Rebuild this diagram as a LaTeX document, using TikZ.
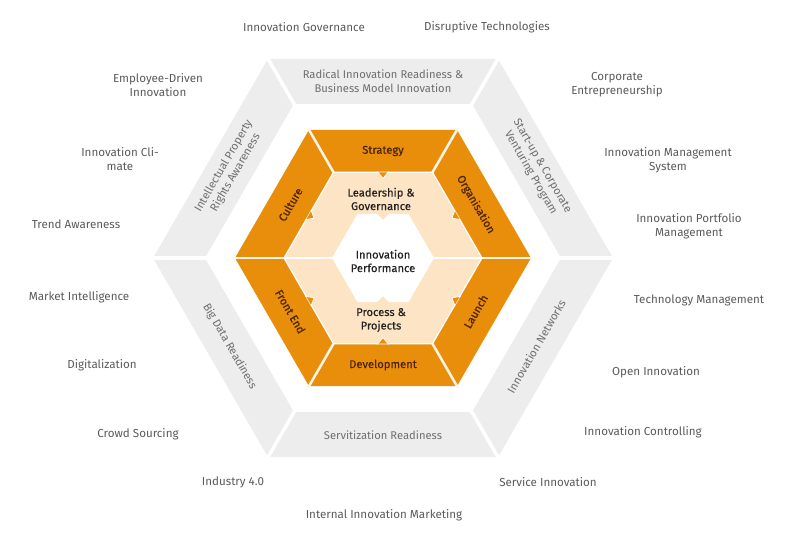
\documentclass[tikz,border=0pt]{standalone}
\usepackage{fontspec}
\setmainfont{Fira Sans}
\newfontfamily\semifont{Fira Sans}[FakeBold=0.4]
\usepackage{xcolor}
\usetikzlibrary{calc}
\definecolor{HexOrange}{HTML}{E98E0B}
\definecolor{HexCream}{HTML}{FCE4C4}
\definecolor{HexGray}{HTML}{EDEDED}
\definecolor{OuterText}{HTML}{5A5A5A}
\definecolor{RingText}{HTML}{6E6E6E}
\definecolor{OrangeText}{HTML}{4A2500}
\definecolor{CoreText}{HTML}{222222}

\begin{document}
\begin{tikzpicture}[x=1pt,y=1pt]
		\tikzstyle{Outer}=[align=center,text=OuterText,font=\fontsize{11.6}{14}\selectfont]
		\tikzstyle{Ring}=[align=center,text=RingText,font=\fontsize{11.2}{13.5}\selectfont]
		\tikzstyle{Piece}=[align=center,text=OrangeText,font=\semifont\fontsize{11.2}{13.5}\selectfont]
		\tikzstyle{Core}=[align=center,text=CoreText,font=\semifont\fontsize{11.2}{13.5}\selectfont]
		\tikzstyle{Gap}=[white,line width=3.5pt]
		\tikzstyle{Seam}=[HexCream!40!white,line width=2.5pt]

 		\def\Rout {230}
 		\def\Rgray {178}
 		\def\Rorange {148}
 		\def\Rcream {99}
 		\def\Rwhite {51}

		\useasboundingbox (-383,258) rectangle (417,-290);

		% rings
		\foreach \a in {0,60,...,300}
		{
			\fill [HexGray] (\a:\Rout) -- (\a+60:\Rout) -- (\a+60:\Rgray) -- (\a:\Rgray) -- cycle;
			\fill [HexOrange] (\a:\Rorange) -- (\a+60:\Rorange) -- (\a+60:\Rcream) -- (\a:\Rcream) -- cycle;
		}
		\fill [HexCream] (0:\Rcream) \foreach \a in {60,120,...,300} { -- (\a:\Rcream) } -- cycle;
		\draw [white,line width=1.2pt] (0:\Rcream) \foreach \a in {60,120,...,300} { -- (\a:\Rcream) } -- cycle;

		% small tabs of the orange pieces
		\foreach \a in {30,90,...,330}
		{
			\fill [HexOrange,rotate=\a] (85.7,-5) -- (79.5,0) -- (85.7,5) -- cycle;
			\draw [white,line width=0.8pt,rotate=\a] (86.3,-6) -- (85.7,-5) -- (79.5,0) -- (85.7,5) -- (86.3,6);
		}

		% white core with notches
		\fill [white] (0:\Rwhite) -- (60:\Rwhite) -- (6,44.2) -- (0,38) -- (-6,44.2) -- (120:\Rwhite) -- (180:\Rwhite)
			-- (240:\Rwhite) -- (-6,-44.2) -- (0,-38) -- (6,-44.2) -- (300:\Rwhite) -- cycle;

		% gaps
		\foreach \a in {0,60,...,300}
		{
			\draw [Gap] (\a:\Rgray-4) -- (\a:\Rout+4);
			\draw [Seam] (\a:\Rcream) -- (\a:\Rorange+2);
		}
		\draw [white,line width=1.5pt] (180:\Rcream) -- (180:\Rwhite);
		\draw [white,line width=1.5pt] (0:\Rwhite) -- (0:\Rcream);

		% gray ring
		\node [Ring] (radical) at (90:177) {Radical Innovation Readiness \&\\Business Model Innovation};
		\node [Ring,rotate=-60] (startup) at (30:177) {Start-up \& Corporate\\Venturing Program};
		\node [Ring,rotate=60] (networks) at (-30:177) {Innovation Networks};
		\node [Ring] (servitization) at (-90:177) {Servitization Readiness};
		\node [Ring,rotate=-60] (bigdata) at (210:177) {Big Data Readiness};
		\node [Ring,rotate=60] (property) at (150:177) {Intellectual Property\\Rights Awareness};

		% orange ring
		\node [Piece] (strategy) at (90:107) {Strategy};
		\node [Piece,rotate=-60] (organisation) at (30:107) {Organisation};
		\node [Piece,rotate=60] (launch) at (-30:107) {Launch};
		\node [Piece] (development) at (-90:107) {Development};
		\node [Piece,rotate=-60] (frontend) at (210:107) {Front End};
		\node [Piece,rotate=60] (culture) at (150:107) {Culture};

		% core
		\node [Core] (leadership) at (-2,59) {Leadership \&\\Governance};
		\node [Core] (performance) at (0,-3) {Innovation\\Performance};
		\node [Core] (process) at (-2,-62) {Process \&\\Projects};

		% outer labels
		\foreach \pos/\txt [count=\cnt] in {
			{(-79,231)}/{Innovation Governance},
			{(104,231)}/{Disruptive Technologies},
			{(-225,173)}/{Employee-Driven\\Innovation},
			{(234,173)}/{Corporate\\Entrepreneurship},
			{(-263,99)}/{Innovation Cli-\\mate},
			{(285,98)}/{Innovation Management\\System},
			{(-307,34)}/{Trend Awareness},
			{(306,32)}/{Innovation Portfolio\\Management},
			{(-304,-39)}/{Market Intelligence},
			{(316,-42)}/{Technology Management},
			{(-281,-107)}/{Digitalization},
			{(273,-114)}/{Open Innovation},
			{(-245,-176)}/{Crowd Sourcing},
			{(260,-174)}/{Innovation Controlling},
			{(-150,-224)}/{Industry 4.0},
			{(165,-224)}/{Service Innovation},
			{(1,-257)}/{Internal Innovation Marketing}}
		{
			\node [Outer] (topic\cnt) at \pos {\txt};
		}

\end{tikzpicture}
\end{document}
